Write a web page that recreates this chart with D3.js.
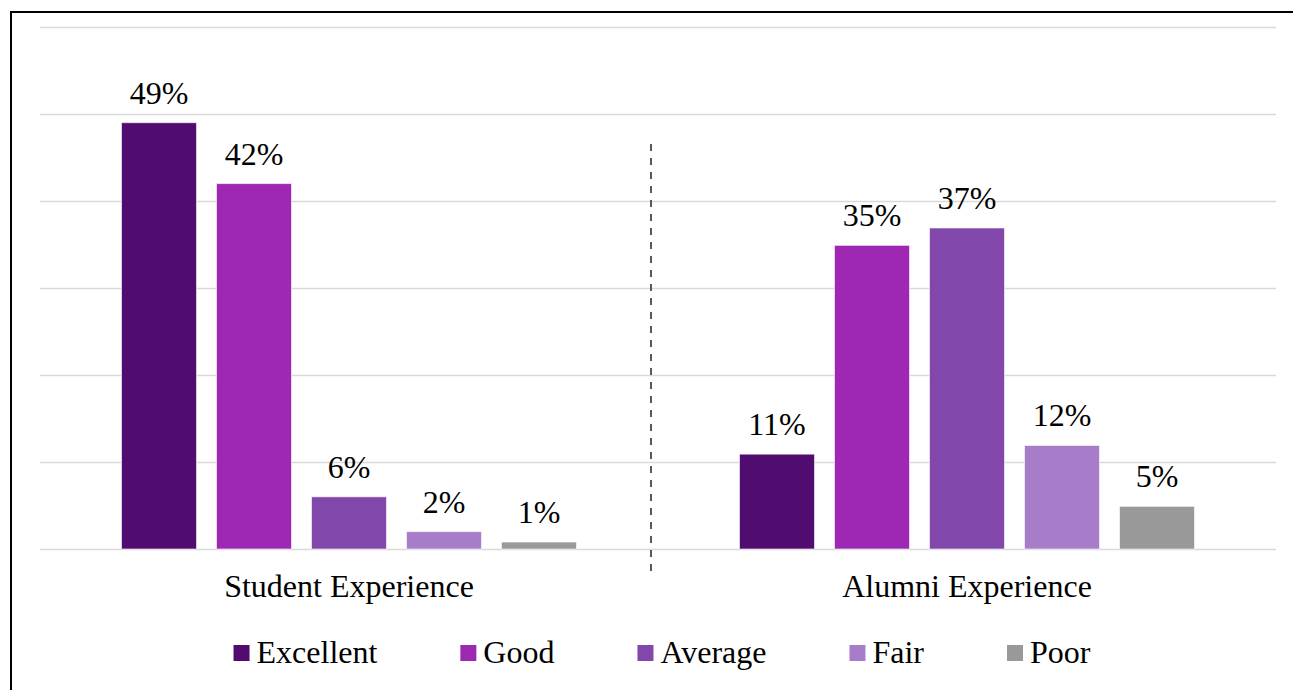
<!DOCTYPE html>
<html>
<head>
<meta charset="utf-8">
<script src="https://cdn.jsdelivr.net/npm/d3@7"></script>
<style>
  body { margin: 0; background: #fff; }
  text { font-family: "Liberation Serif", "Times New Roman", serif; fill: #000; }
</style>
</head>
<body>
<div id="chart"></div>
<script>
// data
var groups = ["Student Experience", "Alumni Experience"];
var ratings = ["Excellent", "Good", "Average", "Fair", "Poor"];
var studentValues = [49, 42, 6, 2, 0.8];
var alumniValues = [10.9, 34.9, 36.9, 11.9, 4.9];
var gridTicks = [0, 10, 20, 30, 40, 50, 60];
var colors = ["#500c6f", "#9e27b3", "#8147ab", "#a77cc9", "#999999"];

var W = 1293, H = 690;
var margin = {top: 27, right: 17, bottom: 141, left: 40},
    width = W - margin.left - margin.right,
    height = H - margin.top - margin.bottom;

var svg = d3.select("#chart")
    .append("svg")
    .attr("width", W)
    .attr("height", H);

// outer frame (runs off the right and bottom edges)
svg.append("rect")
    .attr("x", 11).attr("y", 12)
    .attr("width", W + 20).attr("height", H + 20)
    .attr("fill", "none")
    .attr("stroke", "#000")
    .attr("stroke-width", 2);

var g = svg.append("g")
    .attr("transform", "translate(" + margin.left + "," + margin.top + ")");

var x0 = d3.scaleBand().domain(groups).range([0, width]);
var x1 = d3.scaleBand().domain(ratings).range([0, x0.bandwidth()])
    .paddingInner(0.2105).paddingOuter(0.858);
var y = d3.scaleLinear().domain([0, 60]).range([height, 0]);

// gridlines
var grid = g.append("g")
    .call(d3.axisLeft(y).tickValues(gridTicks).tickSize(-width).tickFormat(""));
grid.select(".domain").remove();
grid.selectAll("line").attr("stroke", "#d9d9d9").attr("stroke-width", 1.5);

var rows = groups.map(function (grp, i) {
    var vals = i === 0 ? studentValues : alumniValues;
    return ratings.map(function (r, j) { return {group: grp, rating: r, value: vals[j], color: colors[j]}; });
});

var gg = g.selectAll(".grp")
    .data(rows)
    .enter().append("g")
    .attr("class", "grp")
    .attr("transform", function (d, i) { return "translate(" + x0(groups[i]) + ",0)"; });

gg.selectAll("rect")
    .data(function (d) { return d; })
    .enter().append("rect")
    .attr("x", function (d) { return x1(d.rating); })
    .attr("y", function (d) { return y(d.value); })
    .attr("width", x1.bandwidth())
    .attr("height", function (d) { return height - y(d.value); })
    .attr("fill", function (d) { return d.color; })
    .attr("stroke", "#fff")
    .attr("stroke-opacity", 0.6)
    .attr("stroke-width", 1);

gg.selectAll(".lbl")
    .data(function (d) { return d; })
    .enter().append("text")
    .attr("class", "lbl")
    .attr("x", function (d) { return x1(d.rating) + x1.bandwidth() / 2; })
    .attr("y", function (d) { return y(d.value) - 19; })
    .attr("text-anchor", "middle")
    .style("font-size", "32px")
    .text(function (d) { return Math.round(d.value) + "%"; });

// category labels
g.selectAll(".cat")
    .data(groups)
    .enter().append("text")
    .attr("class", "cat")
    .attr("x", function (d) { return x0(d) + x0.bandwidth() / 2; })
    .attr("y", height + 48)
    .attr("text-anchor", "middle")
    .style("font-size", "32px")
    .text(function (d) { return d; });

// dashed divider between groups
svg.append("line")
    .attr("x1", 651).attr("x2", 651)
    .attr("y1", 144).attr("y2", 571)
    .attr("stroke", "#595959")
    .attr("stroke-width", 2)
    .attr("stroke-dasharray", "7,7");

// legend
var legend = svg.append("g");
var items = legend.selectAll(".item")
    .data(ratings)
    .enter().append("g")
    .attr("class", "item");
items.append("rect")
    .attr("width", 16).attr("height", 16)
    .attr("y", 645)
    .attr("fill", function (d, i) { return colors[i]; });
items.append("text")
    .attr("x", 23)
    .attr("y", 663)
    .style("font-size", "32px")
    .text(function (d) { return d; });

var pos = 0, starts = [];
items.each(function () {
    starts.push(pos);
    pos += 23 + d3.select(this).select("text").node().getComputedTextLength() + 83;
});
var total = pos - 83;
var lx = 662 - total / 2;
items.attr("transform", function (d, i) { return "translate(" + (lx + starts[i]) + ",0)"; });
</script>
</body>
</html>
